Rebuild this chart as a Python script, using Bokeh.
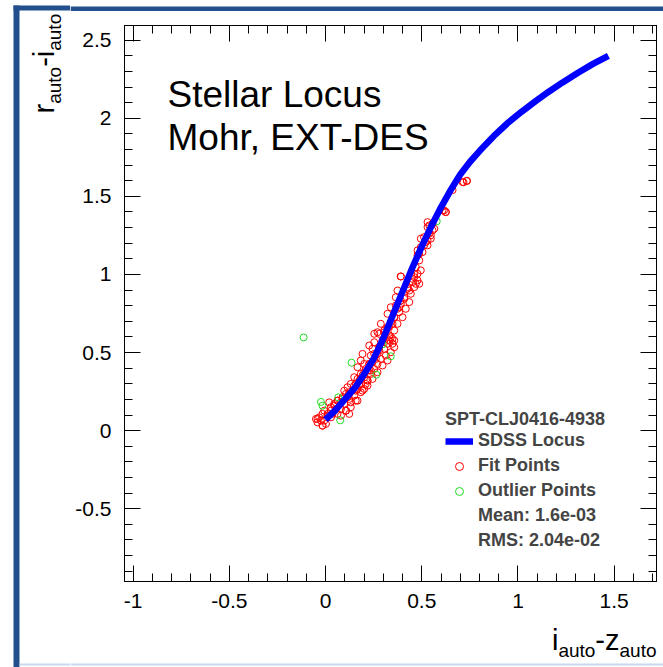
import math
import numpy as np
from bokeh.plotting import figure
from bokeh.layouts import column, row
from bokeh.models import (FixedTicker, LinearAxis, Label, Legend, LegendItem,
                          NumeralTickFormatter, BoxAnnotation, Range1d)
from bokeh.embed import file_html
from bokeh.resources import INLINE

# ---------------- data ----------------
x_ticks = [-1, -0.5, 0, 0.5, 1, 1.5]
y_ticks = [-0.5, 0, 0.5, 1, 1.5, 2, 2.5]

locus_x = [0.00, 0.05, 0.10, 0.15, 0.20, 0.25, 0.30, 0.35, 0.40, 0.45, 0.50, 0.55, 0.60, 0.65,
           0.70, 0.75, 0.80, 0.875, 0.95, 1.02, 1.09, 1.16, 1.23, 1.31, 1.39, 1.47]
locus_y = [0.07, 0.13, 0.20, 0.27, 0.36, 0.46, 0.59, 0.74, 0.89, 1.04, 1.18, 1.31, 1.43, 1.54,
           1.64, 1.72, 1.79, 1.887, 1.973, 2.043, 2.108, 2.170, 2.228, 2.290, 2.348, 2.40]

fit_x = [0.183, 0.201, 0.166, 0.218, 0.183, 0.149, 0.218, 0.175, 0.131, 0.114, 0.157, 0.097, 0.123, 0.088,
         0.062, 0.045, 0.028, 0.010, -0.007, -0.033, -0.050, -0.016, -0.042, 0.106, 0.123, 0.080, 0.131,
         0.166, 0.192, 0.209, 0.235, 0.227, 0.192,
         -0.042, -0.016, -0.007, 0.010, 0.028, 0.045, 0.019, 0.062, 0.080, 0.097, 0.114, 0.131, 0.123,
         0.149, 0.166, 0.183, 0.201, 0.218, 0.192, 0.166, 0.149, 0.235, 0.253, 0.227, 0.270, 0.209, 0.287,
         0.270, 0.313, 0.305, 0.322, 0.296, 0.339, 0.313, 0.357, 0.244, 0.235, 0.279, 0.253, 0.227, 0.201,
         0.157, 0.106, 0.062, 0.028, 0.002, -0.024,
         0.712, 0.734, 0.608, 0.625, 0.556, 0.530, 0.565, 0.538, 0.512, 0.547, 0.521, 0.495, 0.530, 0.504,
         0.478, 0.487, 0.469, 0.495, 0.478, 0.461, 0.391, 0.452, 0.487, 0.461, 0.426, 0.443, 0.409, 0.435,
         0.391, 0.374, 0.417, 0.357, 0.400, 0.339, 0.374, 0.322, 0.357, 0.305, 0.279, 0.253, 0.331, 0.365,
         0.383,
         0.530, 0.539, 0.556, 0.547, 0.530, 0.512, 0.495, 0.478, 0.487, 0.391, 0.460, 0.478, 0.469, 0.452,
         0.426, 0.435, 0.409, 0.374, 0.365, 0.391, 0.383, 0.339, 0.322, 0.357, 0.348, 0.330, 0.287, 0.305,
         0.270, 0.357, 0.348, 0.717, 0.735, 0.660, 0.616, 0.625,
         -0.016, 0.036, 0.054, 0.088, 0.106, 0.140, 0.157, 0.175, 0.201, 0.227, 0.244, 0.261, 0.253, 0.279,
         0.305, 0.331, 0.080, 0.123, 0.183, 0.218, 0.244, 0.270, 0.296, 0.322, 0.339, 0.348]
fit_y = [0.449, 0.427, 0.406, 0.385, 0.363, 0.342, 0.321, 0.299, 0.299, 0.278, 0.256, 0.256, 0.235, 0.214,
         0.192, 0.171, 0.150, 0.107, 0.128, 0.085, 0.075, 0.032, 0.053, 0.128, 0.107, 0.096, 0.150,
         0.192, 0.256, 0.299, 0.385, 0.427, 0.491,
         0.075, 0.032, 0.064, 0.096, 0.128, 0.160, 0.181, 0.192, 0.139, 0.171, 0.213, 0.181, 0.246,
         0.224, 0.267, 0.299, 0.267, 0.321, 0.353, 0.331, 0.288, 0.363, 0.395, 0.427, 0.427, 0.395, 0.459,
         0.491, 0.481, 0.524, 0.556, 0.577, 0.598, 0.620, 0.534, 0.524, 0.481, 0.534, 0.566, 0.545, 0.342,
         0.192, 0.128, 0.107, 0.085, 0.043, 0.064,
         1.592, 1.598, 1.410, 1.399, 1.325, 1.303, 1.293, 1.261, 1.239, 1.229, 1.207, 1.175, 1.186, 1.143,
         1.122, 1.090, 1.047, 1.026, 1.004, 0.983, 0.987, 0.951, 0.940, 0.919, 0.908, 0.876, 0.844, 0.823,
         0.812, 0.780, 0.780, 0.726, 0.726, 0.694, 0.684, 0.662, 0.641, 0.630, 0.620, 0.620, 0.609, 0.801,
         0.758,
         1.335, 1.314, 1.282, 1.250, 1.218, 1.186, 1.229, 1.154, 1.133, 0.987, 1.004, 0.962, 0.940, 0.972,
         0.919, 0.897, 0.854, 0.897, 0.854, 0.833, 0.790, 0.790, 0.748, 0.726, 0.684, 0.662, 0.684, 0.641,
         0.630, 0.577, 0.588, 1.590, 1.600, 1.540, 1.410, 1.400,
         0.107, 0.107, 0.139, 0.203, 0.235, 0.256, 0.299, 0.321, 0.374, 0.385, 0.438, 0.459, 0.491, 0.513,
         0.566, 0.577, 0.181, 0.203, 0.246, 0.288, 0.331, 0.374, 0.417, 0.449, 0.502, 0.556]

out_x = [-0.114, 0.135, 0.339, 0.264, -0.024, -0.016, 0.066, 0.076, 0.296, 0.578]
out_y = [0.597, 0.435, 0.476, 0.358, 0.184, 0.160, 0.213, 0.066, 0.552, 1.340]

legend_title = "SPT-CLJ0416-4938"
legend_labels = ["SDSS Locus", "Fit Points", "Outlier Points", "Mean: 1.6e-03", "RMS: 2.04e-02"]
note_lines = ["Stellar Locus", "Mohr, EXT-DES"]

# ---------------- page geometry (px) ----------------
FONT = "Liberation Sans"
W, H = 663, 667
TOP_H, LEFT_W, BOT_H = 11, 70, 47
MID_H = H - TOP_H - BOT_H
RIGHT_W = W - LEFT_W
FRAME_L, FRAME_R, FRAME_T, FRAME_B = 124, 656, 25, 581
BLUE = "#234f8c"
LIGHT = "#c6d9ee"
BASE_K = 0.35   # baseline correction, fraction of the font size


def blank(w, h):
    f = figure(width=w, height=h, output_backend="svg", toolbar_location=None,
               x_range=Range1d(0, w), y_range=Range1d(h, 0),
               min_border_left=0, min_border_right=0, min_border_top=0, min_border_bottom=0,
               x_axis_location=None, y_axis_location=None)
    f.grid.visible = False
    f.outline_line_color = None
    f.background_fill_color = "white"
    f.border_fill_color = "white"
    return f


def box(f, l_, r_, t_, b_, col):
    f.add_layout(BoxAnnotation(left=l_, right=r_, top=t_, bottom=b_, fill_color=col,
                               fill_alpha=1, line_alpha=0))


ADV = {"a": 556, "u": 556, "t": 278, "o": 556, "r": 333, "i": 222, "z": 500, "-": 333}


def tw(s, size):
    return sum(ADV.get(c, 556) for c in s) * size / 1000.0


def lab(f, x, y, text, size, rotated=False):
    # (x, y): wanted baseline start in the figure's canvas px
    if rotated:
        x = x - BASE_K * size
    else:
        y = y - BASE_K * size
    f.add_layout(Label(x=x, y=y, x_units="canvas", y_units="canvas", text=text,
                       text_font=FONT, text_font_size=f"{size}px", text_color="black",
                       text_align="left", text_baseline="alphabetic",
                       angle=(math.pi / 2 if rotated else 0.0)))


# ---------------- main plot ----------------
p = figure(width=RIGHT_W, height=MID_H, output_backend="svg", toolbar_location=None,
           x_range=Range1d(-1.045, 1.72), y_range=Range1d(-0.966, 2.594),
           min_border_left=FRAME_L - LEFT_W, min_border_right=W - FRAME_R,
           min_border_top=FRAME_T - TOP_H, min_border_bottom=TOP_H + MID_H - FRAME_B,
           x_axis_location=None, y_axis_location=None)
p.grid.visible = False
p.background_fill_color = "white"
p.border_fill_color = "white"
p.outline_line_color = "black"
p.outline_line_width = 1

x_minor = [round(v, 2) for v in np.arange(-1.0, 1.71, 0.1)]
y_minor = [round(v, 2) for v in np.arange(-0.9, 2.51, 0.1)]


def style_common(ax):
    ax.major_tick_out = 0
    ax.minor_tick_out = 0
    ax.axis_line_color = "black"
    ax.major_tick_line_color = "black"
    ax.minor_tick_line_color = "black"


def label_axis(ticks, minor, standoff):
    ax = LinearAxis(ticker=FixedTicker(ticks=ticks, minor_ticks=minor),
                    formatter=NumeralTickFormatter(format="0.[0]"))
    style_common(ax)
    ax.major_tick_in = 16
    ax.minor_tick_in = 8
    ax.major_label_text_font = FONT
    ax.major_label_text_font_size = "21px"
    ax.major_label_text_color = "black"
    ax.major_label_standoff = standoff
    return ax


def tick_only_axis(positions, length):
    ax = LinearAxis(ticker=FixedTicker(ticks=[], minor_ticks=positions))
    style_common(ax)
    ax.major_tick_in = 0
    ax.minor_tick_in = length
    ax.major_label_standoff = 0
    return ax


p.add_layout(label_axis(x_ticks, x_minor, 12), "below")
p.add_layout(label_axis(y_ticks, y_minor, 13), "left")
p.add_layout(tick_only_axis(x_ticks, 16), "above")
p.add_layout(tick_only_axis(x_minor, 8), "above")
p.add_layout(tick_only_axis(y_ticks, 16), "right")
p.add_layout(tick_only_axis(y_minor, 8), "right")

r_fit = p.scatter(fit_x, fit_y, marker="circle", size=7, fill_color=None,
                  line_color="#ff0000", line_width=1)
r_out = p.scatter(out_x, out_y, marker="circle", size=7, fill_color=None,
                  line_color="#22dd22", line_width=1)
r_locus = p.line(locus_x, locus_y, line_color="#0000ff", line_width=6.5, line_join="round")
r_mean = p.line(x=[], y=[], line_alpha=0)
r_rms = p.line(x=[], y=[], line_alpha=0)

legend = Legend(items=[LegendItem(label=legend_labels[0], renderers=[r_locus]),
                       LegendItem(label=legend_labels[1], renderers=[r_fit]),
                       LegendItem(label=legend_labels[2], renderers=[r_out]),
                       LegendItem(label=legend_labels[3], renderers=[r_mean]),
                       LegendItem(label=legend_labels[4], renderers=[r_rms])],
                location=(445 - FRAME_L, 30), title=legend_title)
legend.title_text_font = FONT
legend.title_text_font_style = "bold"
legend.title_text_font_size = "18px"
legend.title_standoff = 0
legend.label_text_font = FONT
legend.label_text_font_style = "bold"
legend.label_text_font_size = "18px"
legend.glyph_width = 28
legend.glyph_height = 20
legend.label_height = 20
legend.label_standoff = 5
legend.spacing = 4
legend.padding = 0
legend.margin = 0
legend.border_line_alpha = 0
legend.background_fill_alpha = 0
p.add_layout(legend)

lab(p, 167 - LEFT_W, 107 - TOP_H, note_lines[0], 37)
lab(p, 167 - LEFT_W, 150 - TOP_H, note_lines[1], 37)

# ---------------- surrounding strips (titles, slide border) ----------------
left_full = blank(LEFT_W, H)
box(left_full, 13, 19, 5, H, BLUE)
box(left_full, 13, LEFT_W, 5, 10, BLUE)
box(left_full, 19, LEFT_W, 663, 665, LIGHT)

top_right = blank(RIGHT_W, TOP_H)
box(top_right, 0, RIGHT_W, 5, 10, BLUE)

bottom_right = blank(RIGHT_W, BOT_H)
box(bottom_right, 0, RIGHT_W, 663 - (TOP_H + MID_H), 665 - (TOP_H + MID_H), LIGHT)

BIG, SUB, SUBOFF = 29, 19, 7
pieces_y = [("r", BIG, 0), ("auto", SUB, SUBOFF), ("-", BIG, 0), ("i", BIG, 0), ("auto", SUB, SUBOFF)]
yy = 113.0
for t, s, off in pieces_y:
    lab(left_full, 54 + off, yy, t, s, rotated=True)
    yy -= tw(t, s)

pieces_x = [("i", BIG, 0), ("auto", SUB, SUBOFF), ("-", BIG, 0), ("z", BIG, 0), ("auto", SUB, SUBOFF)]
total = sum(tw(t, s) for t, s, _ in pieces_x)
xx = 656 - total
for t, s, off in pieces_x:
    lab(bottom_right, xx - LEFT_W, 650 - (TOP_H + MID_H) + off, t, s)
    xx += tw(t, s)

layout = row(left_full, column(top_right, row(p, spacing=0), bottom_right, spacing=0), spacing=0)
open("out.html", "w").write(file_html(layout, INLINE))
